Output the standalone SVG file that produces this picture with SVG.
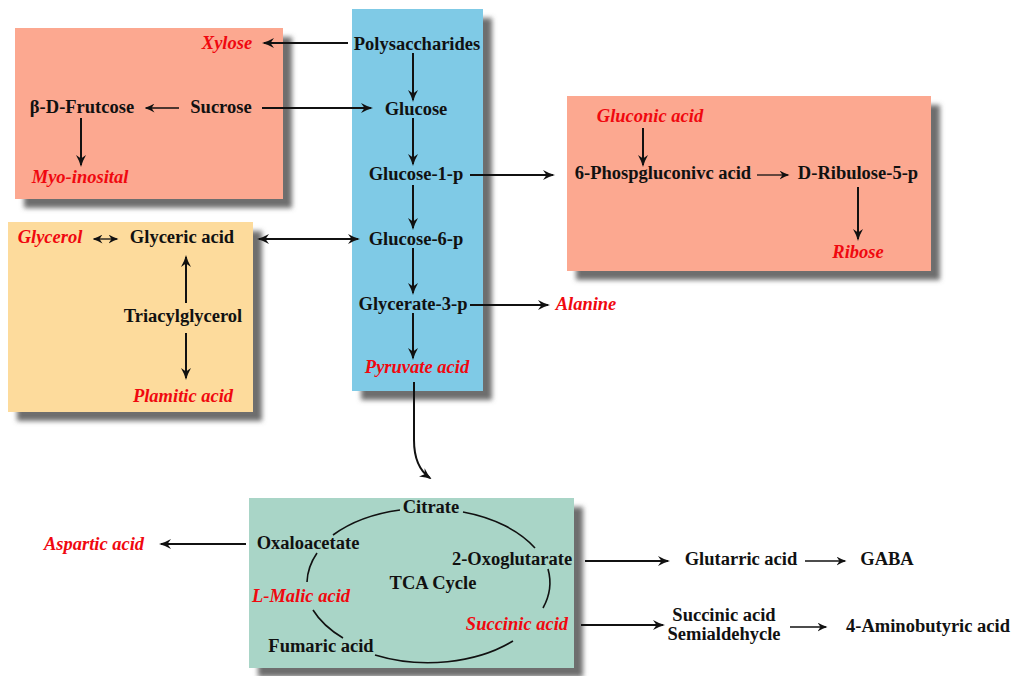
<svg xmlns="http://www.w3.org/2000/svg" width="1012" height="676" viewBox="0 0 1012 676">
<defs>
<style>
.t{font-family:"Liberation Serif","Times New Roman",serif;font-weight:bold;font-size:18.5px;fill:#111;text-anchor:middle}
.r{font-family:"Liberation Serif","Times New Roman",serif;font-weight:bold;font-style:italic;font-size:18.5px;fill:#F0080F;text-anchor:middle}
.c{fill:none;stroke:#111;stroke-width:2}
.th{fill:none;stroke:#111;stroke-width:1.3}
.cy{fill:none;stroke:#111;stroke-width:1.6}
</style>
<filter id="sh" x="-10%" y="-10%" width="130%" height="130%">
<feGaussianBlur in="SourceAlpha" stdDeviation="2.5"/>
<feOffset dx="9" dy="9" result="b"/>
<feFlood flood-color="#5e5e5e" flood-opacity="0.9"/>
<feComposite in2="b" operator="in"/>
<feMerge><feMergeNode/><feMergeNode in="SourceGraphic"/></feMerge>
</filter>
<marker id="ah" viewBox="0 0 12 10" refX="10" refY="5" markerWidth="12" markerHeight="10" markerUnits="userSpaceOnUse" orient="auto-start-reverse">
<path d="M0,0 Q6,3.5 12,5 Q6,6.5 0,10 L3.5,5 z" fill="#111"/>
</marker>
<marker id="as" viewBox="0 0 10 9" refX="8.5" refY="4.5" markerWidth="10" markerHeight="9" markerUnits="userSpaceOnUse" orient="auto-start-reverse">
<path d="M0,0 Q5,3 10,4.5 Q5,6 0,9 L3,4.5 z" fill="#111"/>
</marker>
</defs>
<rect width="1012" height="676" fill="#fff"/>

<g id="boxes">
<rect id="box-sugar" x="15" y="28" width="268" height="171" fill="#FCA890" filter="url(#sh)"/>
<rect id="box-glycolysis" x="352" y="9" width="131" height="382" fill="#7FCAE6" filter="url(#sh)"/>
<rect id="box-lipid" x="8" y="222" width="245" height="190" fill="#FDDB9C" filter="url(#sh)"/>
<rect id="box-ppp" x="567" y="96" width="364" height="175" fill="#FCA890" filter="url(#sh)"/>
<rect id="box-tca" x="249" y="498" width="325" height="170" fill="#A9D5C7" filter="url(#sh)"/>
</g>

<g id="connectors">
<path class="c" d="M348,43 H264" marker-end="url(#ah)"/>
<path class="c" d="M413,53 V100" marker-end="url(#ah)"/>
<path class="c" d="M413,118 V164" marker-end="url(#ah)"/>
<path class="c" d="M413,185 V228" marker-end="url(#ah)"/>
<path class="c" d="M413,248 V293" marker-end="url(#ah)"/>
<path class="c" d="M413,313 V358" marker-end="url(#ah)"/>
<path class="c" d="M414,382 V440 Q414,467 430,478" marker-end="url(#ah)"/>
<path class="c" d="M262,108 H371" marker-end="url(#ah)"/>
<path class="th" d="M179,108 H146" marker-end="url(#as)"/>
<path class="c" d="M81,118 V165" marker-end="url(#ah)"/>
<path class="th" d="M94,239 H117" marker-start="url(#as)" marker-end="url(#as)"/>
<path class="c" d="M259,239 H358" marker-start="url(#ah)" marker-end="url(#ah)"/>
<path class="c" d="M186,303 V257" marker-end="url(#ah)"/>
<path class="c" d="M186,333 V378" marker-end="url(#ah)"/>
<path class="c" d="M470,175 H553" marker-end="url(#ah)"/>
<path class="c" d="M643,128 V165" marker-end="url(#ah)"/>
<path class="th" d="M757,175 H788" marker-end="url(#as)"/>
<path class="c" d="M858,187 V239" marker-end="url(#ah)"/>
<path class="c" d="M470,305 H548" marker-end="url(#ah)"/>
<path class="c" d="M246,544 H161" marker-end="url(#ah)"/>
<path class="c" d="M585,561 H668" marker-end="url(#ah)"/>
<path class="th" d="M805,561 H845" marker-end="url(#as)"/>
<path class="c" d="M581,625 H663" marker-end="url(#ah)"/>
<path class="th" d="M790,627 H826" marker-end="url(#as)"/>
<g id="tca-cycle">
<path class="cy" d="M333,535 A122 77 0 0 1 400,510"/>
<path class="cy" d="M463,512 A122 77 0 0 1 535,548"/>
<path class="cy" d="M548,569 A122 77 0 0 1 543,608"/>
<path class="cy" d="M513,641 A122 77 0 0 1 375,655"/>
<path class="cy" d="M343,638 A122 77 0 0 1 313,610"/>
<path class="cy" d="M307,582 A122 77 0 0 1 317,553"/>
</g>
</g>

<g id="n-polysaccharides"><text class="t" x="417" y="50">Polysaccharides</text></g>
<g id="n-glucose"><text class="t" x="416" y="115">Glucose</text></g>
<g id="n-glucose1p"><text class="t" x="416" y="180">Glucose-1-p</text></g>
<g id="n-glucose6p"><text class="t" x="416" y="245">Glucose-6-p</text></g>
<g id="n-glycerate3p"><text class="t" x="413" y="310">Glycerate-3-p</text></g>
<g id="n-pyruvate"><text class="r" x="417" y="373">Pyruvate acid</text></g>
<g id="n-xylose"><text class="r" x="227" y="49">Xylose</text></g>
<g id="n-sucrose"><text class="t" x="221" y="113">Sucrose</text></g>
<g id="n-frutcose"><text class="t" x="82" y="113">β-D-Frutcose</text></g>
<g id="n-myoinosital"><text class="r" x="80" y="183">Myo-inosital</text></g>
<g id="n-glycerol"><text class="r" x="50" y="243">Glycerol</text></g>
<g id="n-glyceric"><text class="t" x="182" y="243">Glyceric acid</text></g>
<g id="n-triacylglycerol"><text class="t" x="183" y="322">Triacylglycerol</text></g>
<g id="n-plamitic"><text class="r" x="183" y="402">Plamitic acid</text></g>
<g id="n-gluconic"><text class="r" x="650" y="122">Gluconic acid</text></g>
<g id="n-6phosp"><text class="t" x="663" y="179">6-Phospgluconivc acid</text></g>
<g id="n-ribulose"><text class="t" x="858" y="179">D-Ribulose-5-p</text></g>
<g id="n-ribose"><text class="r" x="858" y="258">Ribose</text></g>
<g id="n-alanine"><text class="r" x="586" y="310">Alanine</text></g>
<g id="n-citrate"><text class="t" x="431" y="513">Citrate</text></g>
<g id="n-oxaloacetate"><text class="t" x="308" y="549">Oxaloacetate</text></g>
<g id="n-oxoglutarate"><text class="t" x="512" y="565">2-Oxoglutarate</text></g>
<g id="n-tca"><text class="t" x="433" y="589">TCA Cycle</text></g>
<g id="n-malic"><text class="r" x="301" y="602">L-Malic acid</text></g>
<g id="n-succinic"><text class="r" x="517" y="630">Succinic acid</text></g>
<g id="n-fumaric"><text class="t" x="321" y="652">Fumaric acid</text></g>
<g id="n-aspartic"><text class="r" x="94" y="550">Aspartic acid</text></g>
<g id="n-glutarric"><text class="t" x="741" y="565">Glutarric acid</text></g>
<g id="n-gaba"><text class="t" x="887" y="565">GABA</text></g>
<g id="n-ssa"><text class="t" x="724" y="621">Succinic acid</text><text class="t" x="724" y="640">Semialdehycle</text></g>
<g id="n-aminobutyric"><text class="t" x="928" y="632">4-Aminobutyric acid</text></g>
</svg>
